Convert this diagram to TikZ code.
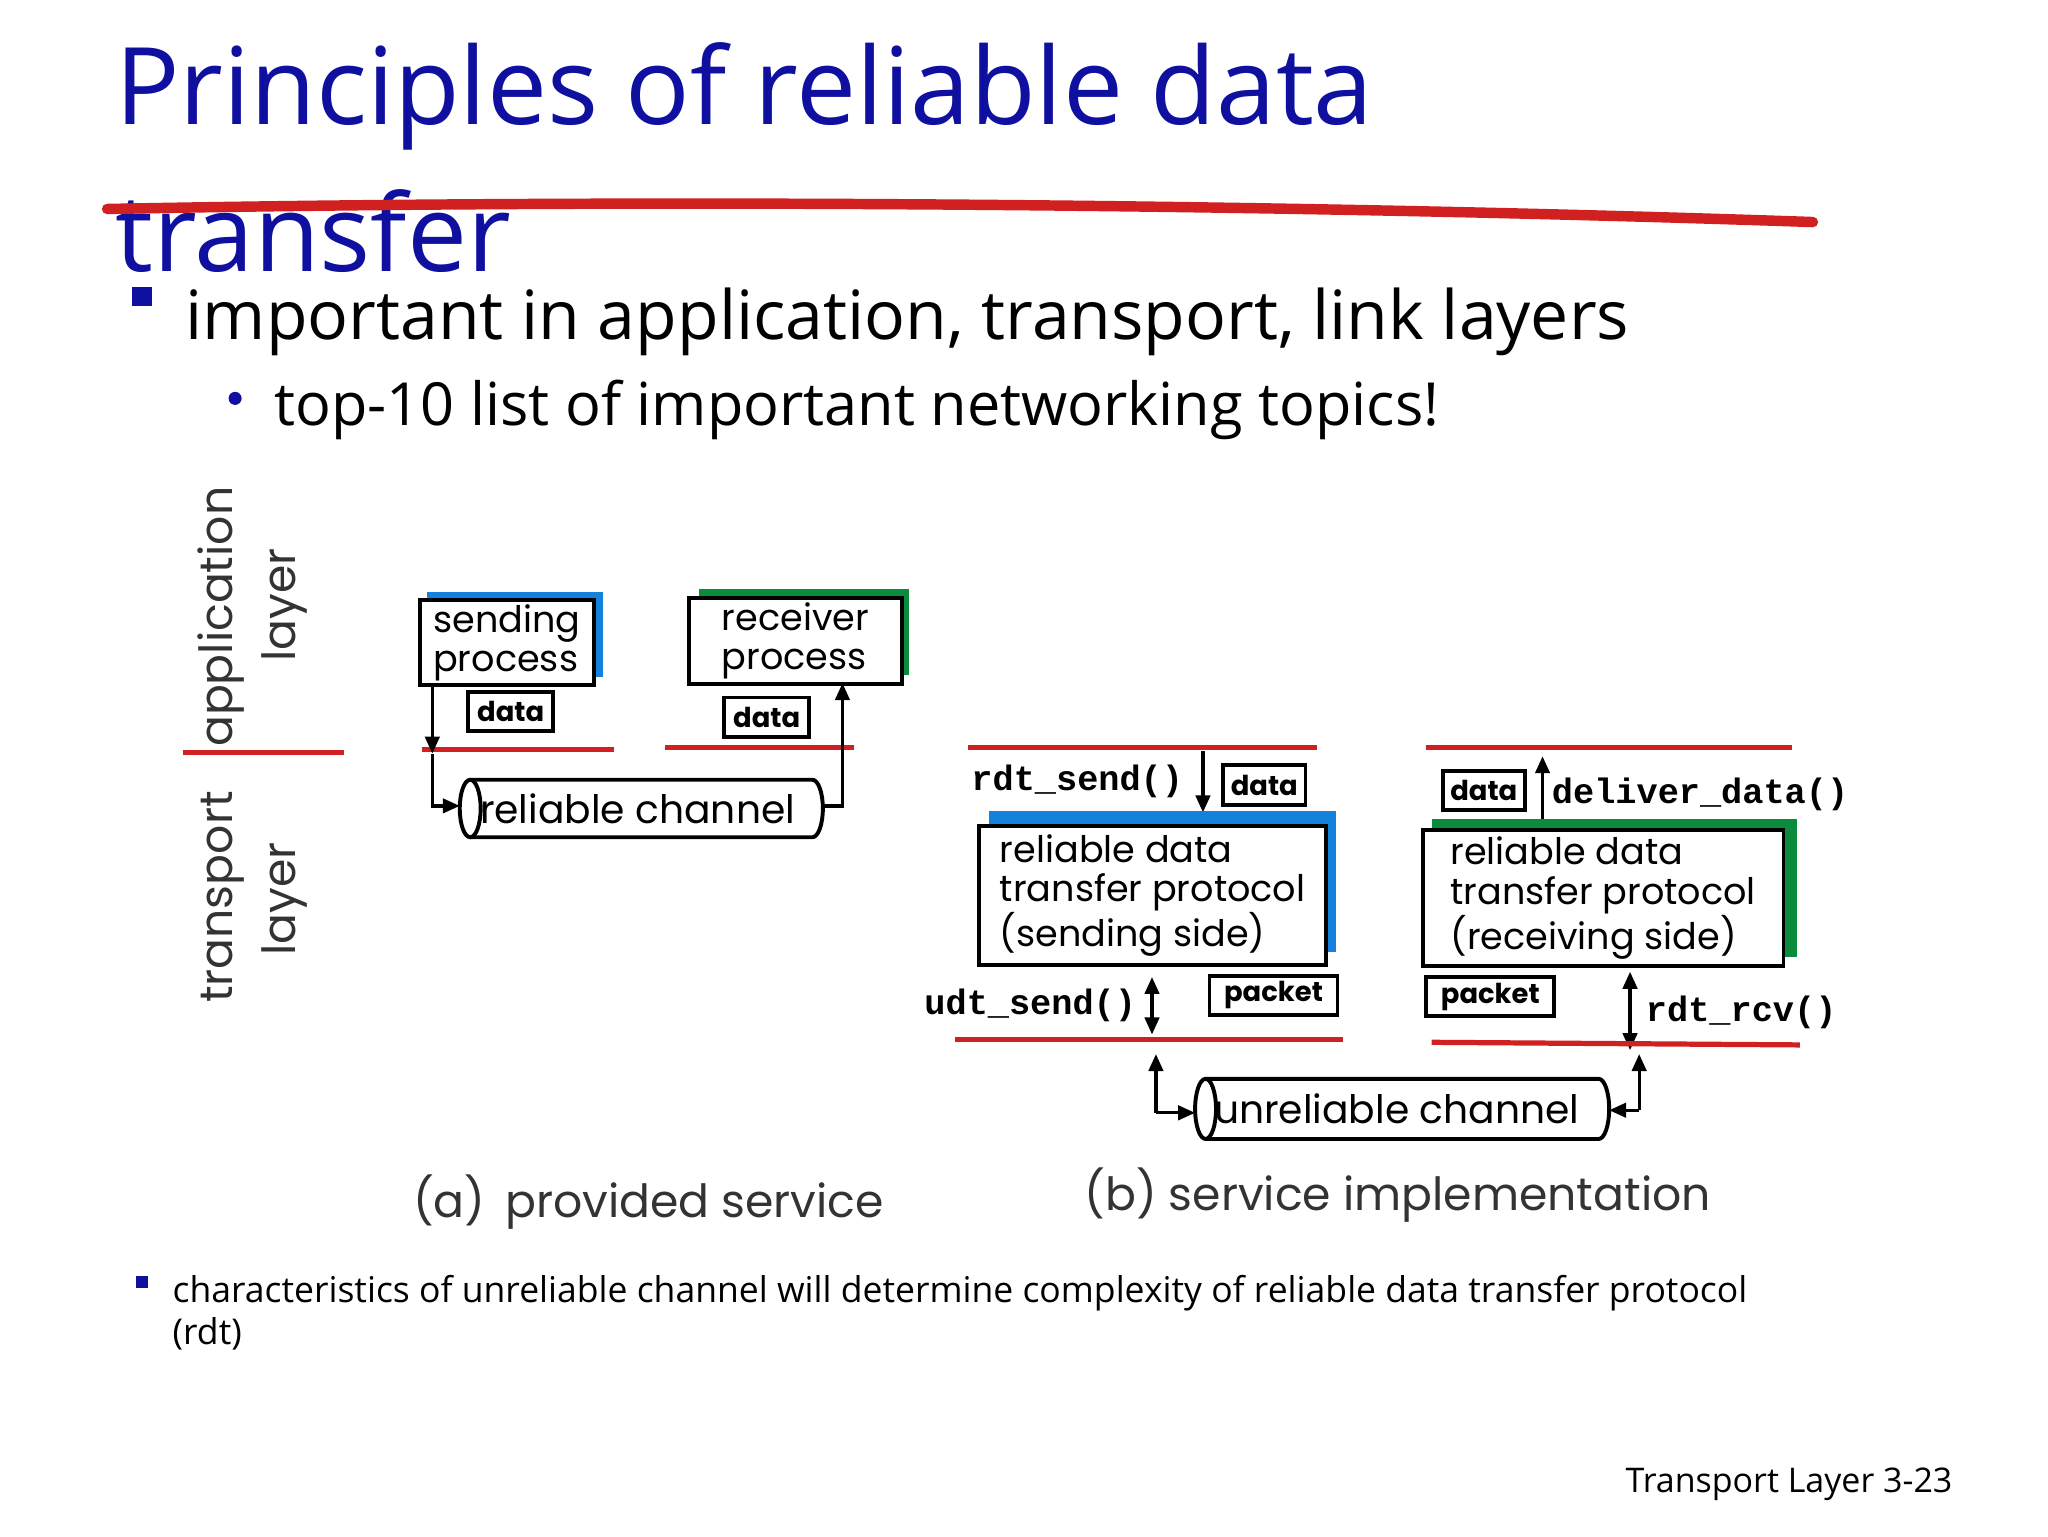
\documentclass[tikz,border=0pt]{standalone}
\usepackage{fontspec}
\setmainfont{Open Sans}
\newfontfamily\diag{Poppins}
\newfontfamily\mono{Liberation Mono}
\usetikzlibrary{arrows.meta}
\definecolor{ttl}{RGB}{16,16,160}
\definecolor{rl}{RGB}{208,32,32}
\definecolor{bl}{RGB}{20,130,220}
\definecolor{gr}{RGB}{10,140,60}
\begin{document}
\begin{tikzpicture}[x=1pt,y=-1pt,
  redl/.style={rl,line width=4pt},
  bx/.style={draw,line width=3pt,fill=white,inner sep=2pt,anchor=north west,align=left,font=\diag\fontsize{28}{30}\selectfont},
  sb/.style={draw,line width=3pt,inner sep=0pt,font=\diag\bfseries\fontsize{21}{21}\selectfont},
  arr/.style={line width=2.5pt,-{Triangle[length=13pt,width=11pt]}},
  darr/.style={line width=2.5pt,{Triangle[length=13pt,width=11pt]}-{Triangle[length=13pt,width=11pt]}},
  lbl/.style={font=\diag\fontsize{35}{35}\selectfont,text=black!80},
  mn/.style={font=\mono\bfseries\fontsize{27}{27}\selectfont}]
\useasboundingbox (0,0) rectangle (1568,1176);
% title
\node[anchor=base west,inner sep=0pt,text=ttl,font=\fontsize{82}{82}\selectfont] (t1) at (88,95) {Principles of reliable data};
\node[anchor=base west,inner sep=0pt,text=ttl,font=\fontsize{82}{82}\selectfont] (t2) at (88,208) {transfer};
\draw[rl,line width=8pt,line cap=round] (82,160) .. controls (600,150) and (1100,160) .. (1388,170);
\fill[ttl] (101,220) rectangle (116,234);
\node[anchor=base west,inner sep=0pt,font=\fontsize{52}{52}\selectfont] (b1) at (142,260) {important in application, transport, link layers};
\fill[ttl] (180,305) circle (5);
\node[anchor=base west,inner sep=0pt,font=\fontsize{45.5}{45.5}\selectfont] (b2) at (210,326) {top-10 list of important networking topics!};
% layer labels
\node[lbl,rotate=90,anchor=base west,inner sep=0pt] (al1) at (178,572) {application};
\node[lbl,rotate=90,anchor=base] (al2) at (226,463) {layer};
\node[lbl,rotate=90,anchor=base west,inner sep=0pt] (tl1) at (178,768) {transport};
\node[lbl,rotate=90,anchor=base] (tl2) at (226,688) {layer};
\draw[redl] (140,576) -- (263,576);
% (a)
\fill[bl] (327,453) rectangle (462,518);
\node[bx,minimum width=133pt,minimum height=65pt] (sp) at (320,458) {sending\\process};
\node[sb,minimum width=65pt,minimum height=30pt] (d1) at (391,545) {data};
\fill[gr] (535,451) rectangle (696,517);
\node[bx,minimum width=163pt,minimum height=66pt] (rp) at (526,456) {receiver\\process};
\node[sb,minimum width=65pt,minimum height=30pt] (d2) at (587,549) {data};
\draw[redl] (323,574) -- (470,574);
\draw[redl] (509,572) -- (654,572);
\coordinate (rc1) at (360,619);
\draw[line width=3pt,fill=white] (360,597) -- (622,597) arc[start angle=90,end angle=-90,x radius=8pt,y radius=22pt] -- (360,641);
\draw[line width=3pt,fill=white] (rc1) ellipse (8pt and 22pt);
\node[font=\diag\fontsize{30}{30}\selectfont,anchor=west] (rch) at (364,619) {reliable channel};
\draw[arr] (331,523) -- (331,577);
\coordinate (ca) at (331,617);
\draw[arr] (331,577) -- (ca) -- (352,617);
\coordinate (cb) at (645,617);
\draw[arr] (630,617) -- (cb) -- (645,523);
% (b) sender
\draw[redl] (741,572) -- (1008,572);
\node[mn,anchor=base east,inner sep=0pt] (rs) at (906,605) {rdt\_send()};
\draw[arr] (921,575) -- (921,622);
\node[sb,minimum width=63pt,minimum height=30pt] (d3) at (968,601) {data};
\fill[bl] (757,621) rectangle (1023,729);
\node[bx,minimum width=266pt,minimum height=106pt] (ps) at (748,631) {reliable data\\transfer protocol\\(sending side)};
\node[mn,anchor=base east,inner sep=0pt] (us) at (870,777) {udt\_send()};
\draw[darr] (882,748) -- (882,792);
\node[sb,minimum width=98pt,minimum height=30pt] (p1) at (975,762) {packet};
\draw[redl] (731,796) -- (1028,796);
% (b) receiver
\draw[redl] (1092,572) -- (1372,572);
\node[sb,minimum width=63pt,minimum height=30pt] (d4) at (1136,605) {data};
\draw[arr] (1181,627) -- (1181,579);
\node[mn,anchor=base west,inner sep=0pt] (dd) at (1188,615) {deliver\_data()};
\fill[gr] (1096,627) rectangle (1376,733);
\node[bx,minimum width=276pt,minimum height=104pt,inner xsep=14pt] (pr) at (1088,634) {reliable data\\transfer protocol\\(receiving side)};
\node[sb,minimum width=98pt,minimum height=30pt] (p2) at (1141,763) {packet};
\draw[darr] (1248,744) -- (1248,804);
\node[mn,anchor=base west,inner sep=0pt] (rr) at (1260,782) {rdt\_rcv()};
\draw[redl] (1096,798) -- (1378,800);
% unreliable channel
\coordinate (uc1) at (923,849);
\draw[line width=3pt,fill=white] (923,826) -- (1224,826) arc[start angle=90,end angle=-90,x radius=8pt,y radius=23pt] -- (923,872);
\draw[line width=3pt,fill=white] (uc1) ellipse (8pt and 23pt);
\node[font=\diag\fontsize{30}{30}\selectfont,anchor=west] (uch) at (926,849) {unreliable channel};
\coordinate (ua) at (885,852);
\draw[arr] (ua) -- (885,807);
\draw[arr] (ua) -- (915,852);
\coordinate (ub) at (1255,850);
\draw[arr] (ub) -- (1255,807);
\draw[arr] (ub) -- (1232,850);
% captions
\node[lbl,anchor=base west,inner sep=0pt] (ca1) at (316,932) {(a)\, provided service};
\node[lbl,anchor=base west,inner sep=0pt] (ca2) at (830,927) {(b) service implementation};
% bottom
\fill[ttl] (104,977) rectangle (113,986);
\node[anchor=base west,inner sep=0pt,font=\fontsize{27.2}{27.2}\selectfont] (bt1) at (132,997) {characteristics of unreliable channel will determine complexity of reliable data transfer protocol};
\node[anchor=base west,inner sep=0pt,font=\fontsize{27.2}{27.2}\selectfont] (bt2) at (132,1029) {(rdt)};
\node[anchor=base east,inner sep=0pt,font=\fontsize{26}{26}\selectfont] (ft) at (1495,1143) {Transport Layer 3-23};
\end{tikzpicture}
\end{document}
